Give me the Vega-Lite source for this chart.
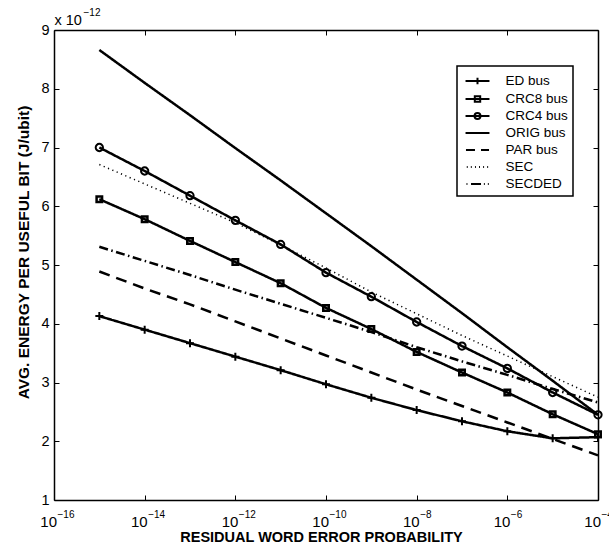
{
 "$schema": "https://vega.github.io/schema/vega-lite/v6.json",
 "width": 544, "height": 470,
 "autosize": {"type": "none"},
 "padding": {"left": 54, "top": 30, "right": 11, "bottom": 45},
 "background": "white",
 "datasets": {
  "d": [
   {"s":"ED bus","p":1e-15,"e":4.13},{"s":"ED bus","p":1e-14,"e":3.90},{"s":"ED bus","p":1e-13,"e":3.67},{"s":"ED bus","p":1e-12,"e":3.44},{"s":"ED bus","p":1e-11,"e":3.21},{"s":"ED bus","p":1e-10,"e":2.97},{"s":"ED bus","p":1e-9,"e":2.74},{"s":"ED bus","p":1e-8,"e":2.53},{"s":"ED bus","p":1e-7,"e":2.34},{"s":"ED bus","p":1e-6,"e":2.17},{"s":"ED bus","p":1e-5,"e":2.05},{"s":"ED bus","p":1e-4,"e":2.07},
   {"s":"CRC8 bus","p":1e-15,"e":6.12},{"s":"CRC8 bus","p":1e-14,"e":5.78},{"s":"CRC8 bus","p":1e-13,"e":5.41},{"s":"CRC8 bus","p":1e-12,"e":5.05},{"s":"CRC8 bus","p":1e-11,"e":4.69},{"s":"CRC8 bus","p":1e-10,"e":4.27},{"s":"CRC8 bus","p":1e-9,"e":3.91},{"s":"CRC8 bus","p":1e-8,"e":3.52},{"s":"CRC8 bus","p":1e-7,"e":3.17},{"s":"CRC8 bus","p":1e-6,"e":2.83},{"s":"CRC8 bus","p":1e-5,"e":2.46},{"s":"CRC8 bus","p":1e-4,"e":2.12},
   {"s":"CRC4 bus","p":1e-15,"e":7.00},{"s":"CRC4 bus","p":1e-14,"e":6.60},{"s":"CRC4 bus","p":1e-13,"e":6.18},{"s":"CRC4 bus","p":1e-12,"e":5.76},{"s":"CRC4 bus","p":1e-11,"e":5.35},{"s":"CRC4 bus","p":1e-10,"e":4.87},{"s":"CRC4 bus","p":1e-9,"e":4.46},{"s":"CRC4 bus","p":1e-8,"e":4.03},{"s":"CRC4 bus","p":1e-7,"e":3.62},{"s":"CRC4 bus","p":1e-6,"e":3.24},{"s":"CRC4 bus","p":1e-5,"e":2.83},{"s":"CRC4 bus","p":1e-4,"e":2.45},
   {"s":"ORIG bus","p":1e-15,"e":8.66},{"s":"ORIG bus","p":1e-14,"e":8.10},{"s":"ORIG bus","p":1e-13,"e":7.55},{"s":"ORIG bus","p":1e-12,"e":6.99},{"s":"ORIG bus","p":1e-11,"e":6.44},{"s":"ORIG bus","p":1e-10,"e":5.88},{"s":"ORIG bus","p":1e-9,"e":5.32},{"s":"ORIG bus","p":1e-8,"e":4.75},{"s":"ORIG bus","p":1e-7,"e":4.18},{"s":"ORIG bus","p":1e-6,"e":3.60},{"s":"ORIG bus","p":1e-5,"e":3.03},{"s":"ORIG bus","p":1e-4,"e":2.45},
   {"s":"PAR bus","p":1e-15,"e":4.89},{"s":"PAR bus","p":1e-14,"e":4.60},{"s":"PAR bus","p":1e-13,"e":4.33},{"s":"PAR bus","p":1e-12,"e":4.04},{"s":"PAR bus","p":1e-11,"e":3.75},{"s":"PAR bus","p":1e-10,"e":3.46},{"s":"PAR bus","p":1e-9,"e":3.17},{"s":"PAR bus","p":1e-8,"e":2.88},{"s":"PAR bus","p":1e-7,"e":2.60},{"s":"PAR bus","p":1e-6,"e":2.32},{"s":"PAR bus","p":1e-5,"e":2.04},{"s":"PAR bus","p":1e-4,"e":1.76},
   {"s":"SEC","p":1e-15,"e":6.71},{"s":"SEC","p":1e-14,"e":6.38},{"s":"SEC","p":1e-13,"e":6.05},{"s":"SEC","p":1e-12,"e":5.72},{"s":"SEC","p":1e-11,"e":5.34},{"s":"SEC","p":1e-10,"e":4.95},{"s":"SEC","p":1e-9,"e":4.54},{"s":"SEC","p":1e-8,"e":4.17},{"s":"SEC","p":1e-7,"e":3.80},{"s":"SEC","p":1e-6,"e":3.45},{"s":"SEC","p":1e-5,"e":3.10},{"s":"SEC","p":1e-4,"e":2.75},
   {"s":"SECDED","p":1e-15,"e":5.31},{"s":"SECDED","p":1e-14,"e":5.07},{"s":"SECDED","p":1e-13,"e":4.83},{"s":"SECDED","p":1e-12,"e":4.58},{"s":"SECDED","p":1e-11,"e":4.34},{"s":"SECDED","p":1e-10,"e":4.10},{"s":"SECDED","p":1e-9,"e":3.86},{"s":"SECDED","p":1e-8,"e":3.60},{"s":"SECDED","p":1e-7,"e":3.36},{"s":"SECDED","p":1e-6,"e":3.13},{"s":"SECDED","p":1e-5,"e":2.89},{"s":"SECDED","p":1e-4,"e":2.66}
  ]
 },
 "data": {"name": "d"},
 "layer": [
  {
   "transform": [{"filter": "datum.s !== 'SEC'"}],
   "mark": {"type": "line", "color": "black", "strokeWidth": 2.5, "strokeCap": "butt", "strokeJoin": "miter"},
   "encoding": {
    "x": {"field": "p", "type": "quantitative", "scale": {"type": "log", "domain": [1e-16, 1e-4], "nice": false},
     "axis": {"orient": "bottom", "values": [1e-16, 1e-14, 1e-12, 1e-10, 1e-8, 1e-6, 1e-4],
      "labelExpr": "'10'", "labelAlign": "right", "labelOffset": 2.5,
      "tickSize": -5, "labelPadding": 31, "labelBaseline": "alphabetic", "labelFlush": false, "labelOverlap": false, "labelBound": false,
      "labelFontSize": 15, "grid": false,
      "title": "RESIDUAL WORD ERROR PROBABILITY", "titleFontSize": 14.5, "titleFontWeight": "bold", "titleX": 267, "titleY": 37, "titleBaseline": "middle", "titleAlign": "center"}},
    "y": {"field": "e", "type": "quantitative", "scale": {"domain": [1, 9], "nice": false, "zero": false},
     "axis": {"orient": "left", "values": [1, 2, 3, 4, 5, 6, 7, 8, 9], "tickSize": -5, "labelPadding": 10, "labelFontSize": 14.5, "grid": false,
      "title": "AVG. ENERGY PER USEFUL BIT (J/ubit)", "titleFontSize": 15.5, "titleFontWeight": "bold", "titleX": -31, "titleY": 222, "titleAngle": -90, "titleBaseline": "middle", "titleAlign": "center"}},
    "strokeDash": {"field": "s", "type": "nominal",
     "scale": {"domain": ["ED bus", "CRC8 bus", "CRC4 bus", "ORIG bus", "PAR bus", "SECDED"], "range": [[1, 0], [1, 0], [1, 0], [1, 0], [11, 7], [9, 3.5, 1.5, 3.5]]},
     "legend": null}
   }
  },
  {
   "transform": [{"filter": "datum.s === 'SEC'"}],
   "mark": {"type": "line", "color": "black", "strokeWidth": 1.5, "strokeDash": [1.2, 3.5], "strokeCap": "butt"},
   "encoding": {
    "x": {"field": "p", "type": "quantitative", "scale": {"type": "log", "domain": [1e-16, 1e-4], "nice": false}, "axis": null},
    "y": {"field": "e", "type": "quantitative", "scale": {"domain": [1, 9], "nice": false, "zero": false}, "axis": null}
   }
  },
  {
   "transform": [{"filter": "datum.s === 'ED bus'"}],
   "mark": {"type": "point", "shape": "M-1,0H1M0,-1V1", "size": 64, "filled": false, "stroke": "black", "strokeWidth": 2, "opacity": 1},
   "encoding": {
    "x": {"field": "p", "type": "quantitative", "scale": {"type": "log", "domain": [1e-16, 1e-4], "nice": false},
     "axis": {"orient": "top", "values": [1e-16, 1e-14, 1e-12, 1e-10, 1e-8, 1e-6, 1e-4], "labels": false, "tickSize": -5, "grid": false,
      "title": "x 10", "titleFontSize": 14.5, "titleFontWeight": "normal", "titleX": 0, "titleY": -6, "titleAlign": "left", "titleBaseline": "alphabetic", "titleAngle": 0}},
    "y": {"field": "e", "type": "quantitative", "scale": {"domain": [1, 9], "nice": false, "zero": false},
     "axis": {"orient": "right", "values": [1, 2, 3, 4, 5, 6, 7, 8, 9], "labels": false, "tickSize": -5, "grid": false, "title": null}}
   }
  },
  {
   "transform": [{"filter": "datum.s === 'CRC8 bus'"}],
   "mark": {"type": "point", "shape": "square", "size": 30, "filled": false, "stroke": "black", "strokeWidth": 2.5, "opacity": 1},
   "encoding": {
    "x": {"field": "p", "type": "quantitative", "scale": {"type": "log", "domain": [1e-16, 1e-4], "nice": false},
     "axis": {"orient": "bottom", "values": [1e-16, 1e-14, 1e-12, 1e-10, 1e-8, 1e-6, 1e-4],
      "labelExpr": "'−' + round(-log(datum.value) / LN10)", "labelAlign": "left", "labelOffset": 3,
      "domain": false, "ticks": false, "labelPadding": 17, "labelBaseline": "alphabetic", "labelFlush": false, "labelOverlap": false, "labelBound": false,
      "labelFontSize": 10, "grid": false, "title": null}},
    "y": {"field": "e", "type": "quantitative", "scale": {"domain": [1, 9], "nice": false, "zero": false}, "axis": null}
   }
  },
  {
   "transform": [{"filter": "datum.s === 'CRC4 bus'"}],
   "mark": {"type": "point", "shape": "circle", "size": 53, "filled": false, "stroke": "black", "strokeWidth": 2, "opacity": 1},
   "encoding": {
    "x": {"field": "p", "type": "quantitative", "scale": {"type": "log", "domain": [1e-16, 1e-4], "nice": false},
     "axis": {"orient": "top", "values": [1e-16], "labels": false, "ticks": false, "domain": false, "grid": false,
      "title": "−12", "titleFontSize": 10, "titleFontWeight": "normal", "titleX": 29, "titleY": -15, "titleAlign": "left", "titleBaseline": "alphabetic", "titleAngle": 0}},
    "y": {"field": "e", "type": "quantitative", "scale": {"domain": [1, 9], "nice": false, "zero": false}, "axis": null}
   }
  },
  {
   "transform": [{"filter": "false"}],
   "mark": {"type": "point", "filled": false, "stroke": "black", "strokeWidth": 2, "opacity": 1},
   "encoding": {
    "shape": {"field": "s", "type": "nominal",
     "scale": {"domain": ["ED bus", "CRC8 bus", "CRC4 bus", "ORIG bus", "PAR bus", "SEC", "SECDED"],
      "range": [
       "M-1.33,0H1.33M0,-0.35V0.35",
       "M-1.33,0H1.33M-0.3,-0.3H0.3V0.3H-0.3Z",
       "M-1.33,0H1.33M0.33,0A0.33,0.33,0,1,1,-0.33,0A0.33,0.33,0,1,1,0.33,0Z",
       "M-1.33,0H1.33",
       "M-1.28,0H-0.28M0.39,0H1.28",
       "M-1.19,0H-1.09M-0.74,0H-0.64M-0.28,0H-0.18M0.17,0H0.27M0.63,0H0.73M1.08,0H1.18",
       "M-1.22,0H-1.12M-0.72,0H0.39M0.71,0H0.81M1.15,0H1.25"
      ]},
     "legend": {"orient": "none", "legendX": 403, "legendY": 36, "title": null, "symbolSize": 324, "symbolStrokeWidth": 2,
      "symbolStrokeColor": "black", "symbolFillColor": "transparent", "symbolOpacity": 1, "labelFontSize": 13.5, "labelFont": "Liberation Sans",
      "labelColor": "black", "labelOffset": 18, "symbolOffset": 5.5, "padding": 5, "rowPadding": 0, "strokeColor": "black",
      "fillColor": "white", "labelLimit": 200, "cornerRadius": 0}}
   }
  }
 ],
 "resolve": {"axis": {"x": "independent", "y": "independent"}},
 "config": {
  "view": {"stroke": null},
  "legend": {"strokeWidth": 1.5},
  "axis": {"domainColor": "black", "domainWidth": 1.5, "tickColor": "black", "tickWidth": 1, "labelColor": "black", "titleColor": "black", "labelFont": "Liberation Sans", "titleFont": "Liberation Sans"}
 }
}
